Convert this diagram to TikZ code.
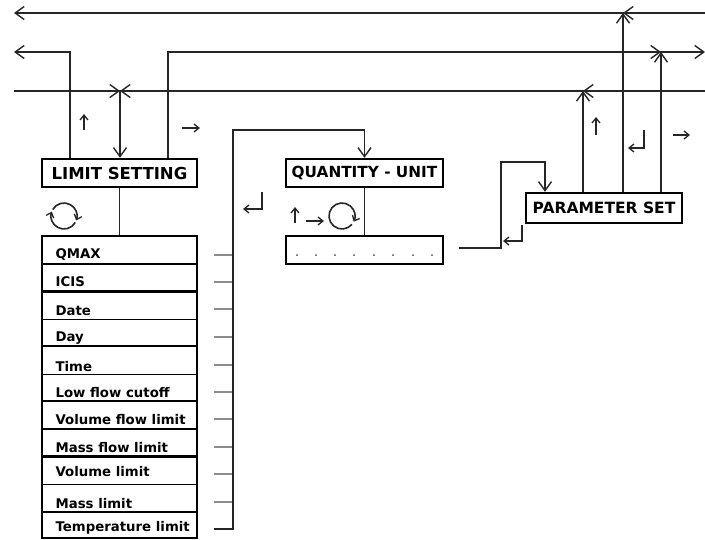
\documentclass[tikz,border=0pt]{standalone}
\usepackage{fontspec}
\setmainfont{DejaVu Sans}
\usetikzlibrary{arrows.meta}
\begin{document}
\begin{tikzpicture}[x=1pt,y=-1pt,line width=1.2pt,draw=black!85,
  >={Straight Barb[length=9pt,width=13pt,line width=1.4pt]},
  box/.style={draw=black,line width=2.4pt,inner sep=0pt,minimum height=28pt},
  bf/.style={font=\bfseries\fontsize{#1}{18}\selectfont},
  rowtext/.style={anchor=base west,font=\bfseries\fontsize{13.3}{15}\selectfont,inner sep=0pt},
  sep/.style={line width=1.1pt},
  thicksep/.style={line width=2.4pt},
  tick/.style={draw=black!45,line width=1.2pt},
  sm/.style={-{Straight Barb[length=5pt,width=8pt,line width=1.3pt]},line width=1.3pt},
  loop/.style={-{Straight Barb[length=4.5pt,width=8pt,line width=1.3pt]},line width=1.6pt}]
\useasboundingbox (0,0) rectangle (705,539);

% boxes
\node[box,bf=16.5,minimum width=155pt] (ls) at (119.5,173) {LIMIT SETTING};
\node[box,bf=15.3,minimum width=157pt] (qu) at (364.5,173) {QUANTITY - UNIT};
\node[box,bf=15.5,minimum width=156pt,minimum height=30pt] (ps) at (604,208) {PARAMETER SET};
\node[box,minimum width=157pt,minimum height=28pt] (dots) at (364.5,250) {};
\foreach \x in {297,316,335,354,374,393,413,432}
  \fill[black!70] (\x,255) circle (1);

% list
\node[draw=black,line width=2.4pt,minimum width=155pt,minimum height=302pt,inner sep=0pt] (list) at (119.5,387) {};
\foreach \y/\s in {263.7/thicksep,291.3/thicksep,319.3/sep,346/sep,374.3/sep,401/thicksep,429/thicksep,456.3/thicksep,484.3/sep,512/thicksep}
  \draw[\s,draw=black] (42,\y) -- (197,\y);
\foreach \t/\b [count=\i] in {QMAX/258.5,ICIS/286,Date/315,Day/341,Time/371,Low flow cutoff/397,Volume flow limit/424.5,Mass flow limit/452.5,Volume limit/476,Mass limit/508,Temperature limit/531.5}
  \node[rowtext] (t\i) at (55,\b) {\t};

% ticks
\foreach \y in {255,282,309,337,365,392,419,447,474,502}
  \draw[tick] (214,\y) -- (233,\y);
\coordinate (colbot) at (214,529);
\draw[->] (colbot) -- (233,529) -- (233,130) -| (qu.north);

% connectors between boxes
\draw (ls.south) -- (list.north);
\draw (qu.south) -- (dots.north);
\coordinate (dotsout) at (459,248);
\coordinate (x545) at (545,0);
\draw[->] (dotsout) -- (501,248) -- (501,162) -- (545,162) -- (ps.north -| x545);

% bus lines
\coordinate (l1) at (14,13);  \coordinate (r1) at (705,13);
\coordinate (l2) at (14,52);  \coordinate (r2) at (705,52);
\coordinate (l3) at (14,91);  \coordinate (r3) at (705,91);
\coordinate (x70) at (70,0); \coordinate (x120) at (120,0); \coordinate (x168) at (168,0);
\coordinate (x583) at (583,0); \coordinate (x623) at (623,0); \coordinate (x661) at (661,0);

\draw[->] (r1) -- (l1);
\draw[->] (r1) -- (623,13);
\draw[->] (ps.north -| x623) -- (623,13);

\draw[->] (ls.north -| x70) -- (70,52) -- (l2);
\draw[->] (ls.north -| x168) -- (168,52) -- (r2);
\draw[->] (168,52) -- (661,52);
\draw[->] (ps.north -| x661) -- (661,52);

\draw (l3) -- (r3);
\draw[->] (l3) -- (120,91);
\draw[->] (r3) -- (583,91);
\draw[->] (583,91) -- (120,91);
\draw[->] (120,91) -- (ls.north -| x120);
\draw[->] (ps.north -| x583) -- (583,91);

% small direction marks
\draw[sm] (84,130) -- (84,114);
\draw[sm] (182,128) -- (200,128);
\draw[sm] (262,192) -- (262,209) -- (243,209);
\draw[sm] (295,223) -- (295,207);
\draw[sm] (306,221) -- (324,221);
\draw[sm] (522,225) -- (522,241) -- (503,241);
\draw[sm] (596,135) -- (596,117);
\draw[sm] (644,130) -- (644,148) -- (628,148);
\draw[sm] (673,135) -- (690,135);

% loop symbols
\draw[loop] (64,216) ++(30:13) arc[start angle=30,end angle=200,radius=13];
\draw[loop] (64,216) ++(210:13) arc[start angle=210,end angle=380,radius=13];
\draw[loop] (342,216) ++(40:13) arc[start angle=40,end angle=386,radius=13];
\end{tikzpicture}
\end{document}
